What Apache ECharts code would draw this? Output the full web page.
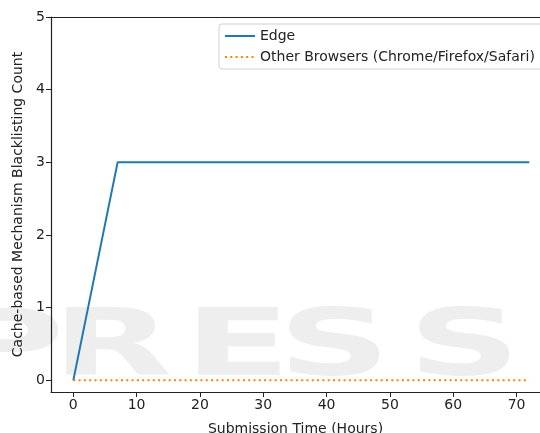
<!DOCTYPE html>
<html>
<head>
<meta charset="utf-8">
<script src="https://cdn.jsdelivr.net/npm/echarts@6/dist/echarts.min.js"></script>
<style>
  html, body { margin: 0; padding: 0; background: #fff; }
  #chart { width: 540px; height: 433px; }
</style>
</head>
<body>
<div id="chart"></div>
<script>
// data
var hours = [0, 7, 72]
var edgeCount = [0, 3, 3]
var otherHours = [0, 72]
var otherCount = [0, 0]
var xTicks = [0, 10, 20, 30, 40, 50, 60, 70]
var yTicks = [0, 1, 2, 3, 4, 5]

var font = 'DejaVu Sans'
var chart = echarts.init(document.getElementById('chart'))

var pairs = function (xs, ys) {
    return xs.map(function (x, i) { return [x, ys[i]] })
}

// faint watermark letters behind the plot
var mark = ['P', 'R', 'E', 'S', 'S']
var markX = [-50, 52, 184, 278, 408]
var watermark = mark.map(function (ch, i) {
    return {
        type: 'text',
        x: markX[i],
        y: 305,
        scaleX: 1.7,
        z: -10,
        silent: true,
        style: { text: ch, fontSize: 92, fontWeight: 'bold', fontFamily: font, fill: '#eeeeee' }
    }
})

var option = {
    backgroundColor: '#fff',
    animation: false,
    textStyle: { fontFamily: font },
    graphic: watermark,
    grid: { left: 51, right: 0, top: 17, bottom: 41, outerBoundsMode: 'none', containLabel: false },
    legend: {
        orient: 'vertical',
        left: 219,
        top: 24,
        itemWidth: 30,
        itemHeight: 10,
        itemGap: 7,
        padding: [5, 8, 5, 5],
        borderColor: '#d0d0d0',
        borderWidth: 1,
        borderRadius: 3,
        backgroundColor: 'rgba(255,255,255,0.8)',
        itemStyle: { opacity: 0 },
        textStyle: { fontSize: 14, color: '#222', fontFamily: font },
        data: ['Edge', 'Other Browsers (Chrome/Firefox/Safari)']
    },
    xAxis: [{
        type: 'value',
        min: -3.52,
        max: 73.7,
        name: 'Submission Time (Hours)',
        nameLocation: 'middle',
        nameGap: 30,
        nameTextStyle: { fontSize: 14, color: '#222' },
        axisLine: { show: true, onZero: false, lineStyle: { color: '#222', width: 1.2 } },
        axisTick: { show: true, length: 5, customValues: xTicks, lineStyle: { color: '#222' } },
        axisLabel: { fontSize: 14, color: '#222', margin: 6, customValues: xTicks },
        splitLine: { show: false }
    }, {
        type: 'value',
        position: 'top',
        min: -3.52,
        max: 73.7,
        axisLine: { show: true, onZero: false, lineStyle: { color: '#222', width: 1.2 } },
        axisTick: { show: false },
        axisLabel: { show: false },
        splitLine: { show: false }
    }],
    yAxis: {
        type: 'value',
        min: -0.16,
        max: 5,
        name: 'Cache-based Mechanism Blacklisting Count',
        nameLocation: 'middle',
        nameGap: 26,
        nameTextStyle: { fontSize: 14, color: '#222' },
        axisLine: { show: true, onZero: false, lineStyle: { color: '#222', width: 1.2 } },
        axisTick: { show: true, length: 5, customValues: yTicks, lineStyle: { color: '#222' } },
        axisLabel: { fontSize: 14, color: '#222', margin: 6, customValues: yTicks },
        splitLine: { show: false }
    },
    series: [{
        name: 'Edge',
        type: 'line',
        symbol: 'none',
        data: pairs(hours, edgeCount),
        color: '#1f77b4',
        lineStyle: { width: 2, color: '#1f77b4' }
    }, {
        name: 'Other Browsers (Chrome/Firefox/Safari)',
        type: 'line',
        symbol: 'none',
        data: pairs(otherHours, otherCount),
        color: '#ff7f0e',
        lineStyle: { width: 2, color: '#ff7f0e', type: [2, 3.3] }
    }]
}
chart.setOption(option, true)
</script>
</body>
</html>
